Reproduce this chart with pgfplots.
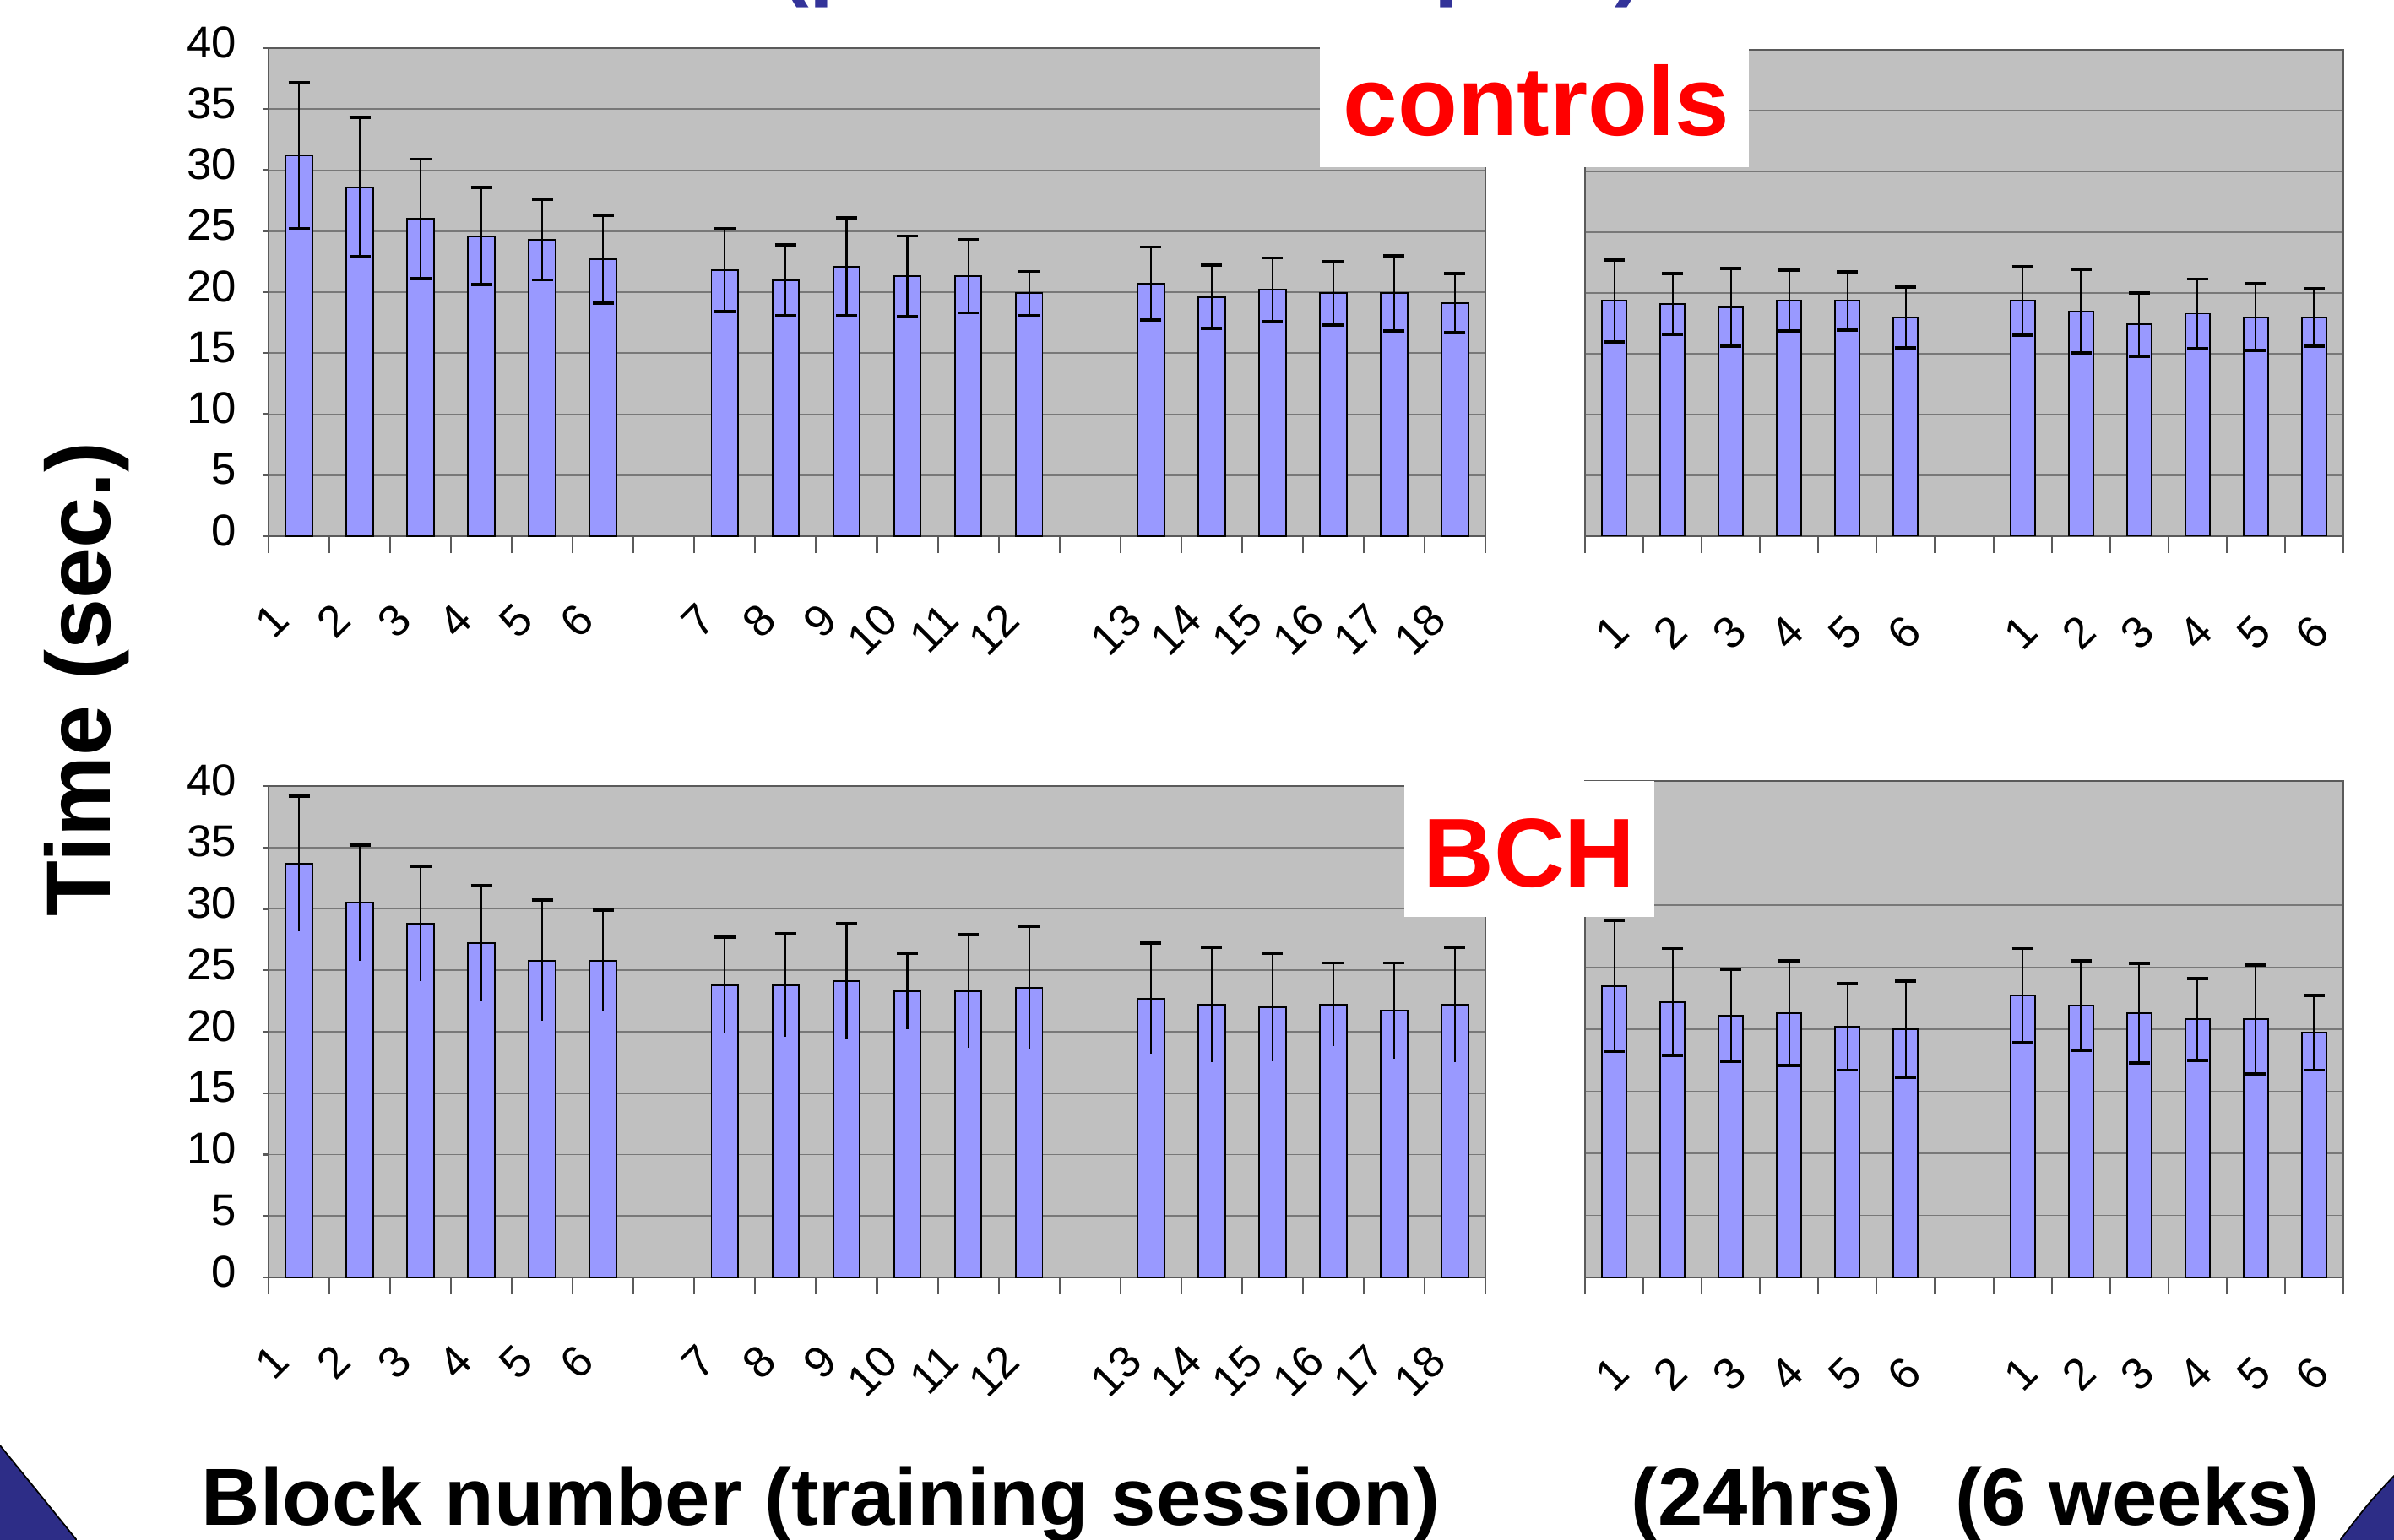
\documentclass[border=0pt]{standalone}
\usepackage{pgfplots}
\pgfplotsset{compat=1.18}
\usepackage{pgfplotstable}
\usepackage{fontspec}
\setmainfont{Liberation Sans}

\definecolor{plotgray}{RGB}{192,192,192}
\definecolor{gridgray}{RGB}{120,120,120}
\definecolor{axisgray}{RGB}{90,90,90}
\definecolor{barblue}{RGB}{153,153,255}
\definecolor{slidenavy}{RGB}{45,45,135}
\definecolor{titleblue}{RGB}{51,51,153}

% slot positions: blocks 1-6 -> 0-5, 7-12 -> 7-12, 13-18 -> 14-19
\pgfplotstableread{
x  y     e
0  31.2  6.0
1  28.6  5.7
2  26.0  4.9
3  24.6  4.0
4  24.3  3.3
5  22.7  3.6
7  21.8  3.4
8  21.0  2.9
9  22.1  4.0
10 21.3  3.3
11 21.3  3.0
12 19.9  1.8
14 20.7  3.0
15 19.6  2.6
16 20.2  2.6
17 19.9  2.6
18 19.9  3.1
19 19.1  2.4
}\ctrltrain

% 24 hrs -> 0-5, 6 weeks -> 7-12
\pgfplotstableread{
x  y      e
0  19.35  3.35
1  19.1   2.5
2  18.8   3.2
3  19.35  2.5
4  19.35  2.4
5  18.0   2.5
7  19.35  2.8
8  18.5   3.45
9  17.4   2.6
10 18.3   2.85
11 18.0   2.75
12 18.0   2.35
}\ctrlretest

\pgfplotstableread{
x  y     e
0  33.7  5.5
1  30.5  4.7
2  28.8  4.7
3  27.2  4.7
4  25.8  4.9
5  25.8  4.1
7  23.8  3.9
8  23.8  4.2
9  24.1  4.7
10 23.3  3.1
11 23.3  4.6
12 23.6  5.0
14 22.7  4.5
15 22.2  4.7
16 22.0  4.4
17 22.2  3.4
18 21.7  3.9
19 22.2  4.7
}\bchtrain

\pgfplotstableread{
x  y     e
0  23.5  5.3
1  22.2  4.3
2  21.1  3.7
3  21.3  4.2
4  20.2  3.5
5  20.0  3.9
7  22.7  3.8
8  21.9  3.6
9  21.3  4.0
10 20.8  3.3
11 20.8  4.4
12 19.7  3.0
}\bchretest

\pgfplotsset{
  panel/.style={
    scale only axis,
    ybar, bar shift=0pt,
    enlargelimits=false,
    ymin=0, ymax=40, ytick={0,5,...,40},
    axis background/.style={fill=plotgray},
    ymajorgrids,
    grid style={draw=gridgray, line width=0.45pt},
    axis line style={draw=axisgray, line width=0.7pt},
    tick pos=left,
    tick align=outside,
    major tick length=0.07cm,
    minor tick length=0.2cm,
    tick style={draw=axisgray, line width=0.6pt},
    major x tick style={draw=none},
    /pgf/number format/assume math mode=true,
    yticklabel style={font=\fontsize{15}{15}\selectfont, inner sep=0pt, xshift=-0.3cm, yshift=0.07cm},
  },
  training/.style={panel, width=14.41cm,
    xmin=-0.5, xmax=19.5, bar width=0.44,
    xtick={0,1,2,3,4,5,7,8,9,10,11,12,14,15,16,17,18,19},
    xticklabels={1,2,3,4,5,6,7,8,9,10,11,12,13,14,15,16,17,18},
    minor xtick={-0.5,0.5,...,19.5},
    xticklabel style={font=\fontsize{15}{15}\selectfont, inner sep=0pt,
      yshift=-0.69cm, xshift=-0.34cm, rotate=45, anchor=north east},
  },
  retest/.style={panel, width=8.98cm,
    xmin=-0.5, xmax=12.5, bar width=0.42,
    xtick={0,1,2,3,4,5,7,8,9,10,11,12},
    xticklabels={1,2,3,4,5,6,1,2,3,4,5,6},
    minor xtick={-0.5,0.5,...,12.5},
    xticklabel style={font=\fontsize{15}{15}\selectfont, inner sep=0pt,
      yshift=-0.83cm, xshift=-0.05cm, rotate=45, anchor=north east},
    yticklabels={}, major y tick style={draw=none},
  },
  meanbar/.style={fill=barblue, draw=black, line width=0.55pt},
  sdbar/.style={error bars/y explicit,
    error bars/error bar style={draw=black, line width=0.6pt},
    error bars/error mark options={draw=black, rotate=90, mark size=0.125cm, line width=1.1pt}},
}

\begin{document}
\begin{tikzpicture}
\useasboundingbox (0,0) rectangle (28.35,18.23);
\clip (0,0) rectangle (28.35,18.23);

% slide decoration in the corners
\fill[slidenavy, draw=black, line width=0.5pt] (-0.1,-0.1) -- (-0.1,1.11) -- (0,1.11)
  .. controls (0.35,0.68) .. (0.9,0) -- (0.9,-0.1) -- cycle;
\fill[slidenavy, draw=black, line width=0.5pt] (28.45,-0.1) -- (28.45,0.75) -- (28.35,0.75)
  .. controls (28.05,0.43) .. (27.72,0) -- (27.72,-0.1) -- cycle;

% heading (runs off the top edge)
\node[anchor=base west, inner sep=0pt, text=titleblue,
  font=\bfseries\fontsize{29.6}{30}\selectfont] at (9.23,18.35) {(practice and repeat)};

% controls: training session
\begin{axis}[training, at={(3.18cm,11.88cm)}, anchor=south west, height=5.78cm]
  \addplot[meanbar, sdbar, error bars/y dir=both] table[x=x, y=y, y error=e] {\ctrltrain};
\end{axis}
% controls: 24 hrs and 6 weeks
\begin{axis}[retest, at={(18.77cm,11.88cm)}, anchor=south west, height=5.76cm]
  \addplot[meanbar, sdbar, error bars/y dir=both] table[x=x, y=y, y error=e] {\ctrlretest};
\end{axis}
% BCH: training session (lower whisker drawn without cap)
\begin{axis}[training, at={(3.18cm,3.10cm)}, anchor=south west, height=5.82cm]
  \addplot[meanbar, sdbar, error bars/y dir=plus] table[x=x, y=y, y error=e] {\bchtrain};
  \addplot[forget plot, draw=none, fill=none, sdbar, error bars/y dir=minus,
    error bars/error mark=none] table[x=x, y=y, y error=e] {\bchtrain};
\end{axis}
% BCH: 24 hrs and 6 weeks
\begin{axis}[retest, at={(18.77cm,3.10cm)}, anchor=south west, height=5.88cm]
  \addplot[meanbar, sdbar, error bars/y dir=both] table[x=x, y=y, y error=e] {\bchretest};
\end{axis}

% group tags
\fill[white] (15.63,16.25) rectangle (20.71,17.69);
\node[anchor=base, inner sep=0pt, text=red, font=\bfseries\fontsize{33}{33}\selectfont]
  at (18.195,16.62) {controls};
\fill[white] (16.63,7.37) rectangle (19.59,8.985);
\node[anchor=base, inner sep=0pt, text=red, font=\bfseries\fontsize{33}{33}\selectfont]
  at (18.11,7.73) {BCH};

% axis titles
\node[rotate=90, anchor=base, inner sep=0pt, font=\bfseries\fontsize{30.7}{31}\selectfont]
  at (1.30,10.185) {Time (sec.)};
\node[anchor=base, inner sep=0pt, font=\bfseries\fontsize{27.3}{28}\selectfont]
  at (9.72,0.17) {Block number (training session)};
\node[anchor=base, inner sep=0pt, font=\bfseries\fontsize{27.3}{28}\selectfont]
  at (20.91,0.17) {(24hrs)};
\node[anchor=base, inner sep=0pt, font=\bfseries\fontsize{27.3}{28}\selectfont]
  at (25.31,0.17) {(6 weeks)};
\end{tikzpicture}
\end{document}
